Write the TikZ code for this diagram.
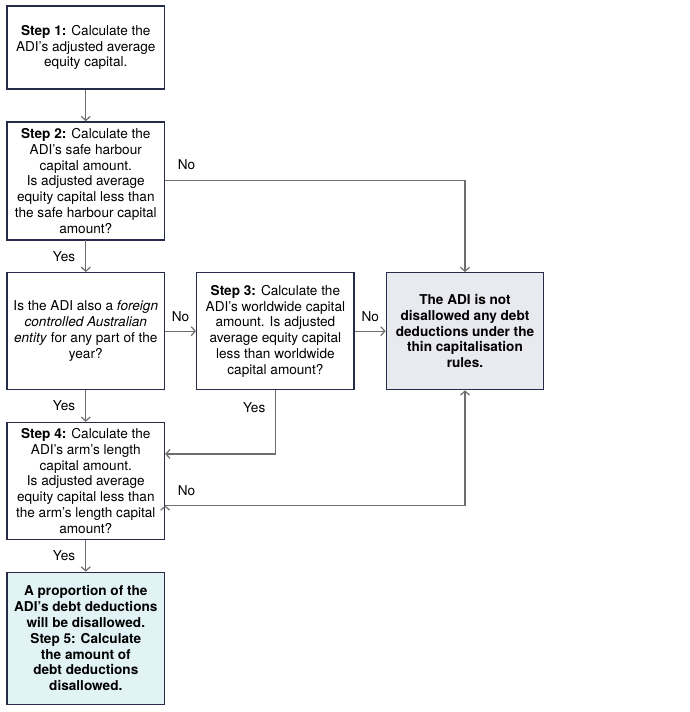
\documentclass[tikz,border=0pt]{standalone}
\usepackage{fontspec}
\setmainfont{TeX Gyre Heros}
\usetikzlibrary{matrix,calc,arrows.meta}
\definecolor{boxline}{HTML}{262B4A}
\definecolor{arrowgrey}{HTML}{6E6E6E}
\definecolor{notfill}{HTML}{E9EAEF}
\definecolor{stepfill}{HTML}{E2F3F6}

\begin{document}
\begin{tikzpicture}[
  box/.style={draw=boxline, line width=1.3pt, align=center, minimum width=157.5pt,
    inner sep=2pt, font=\fontsize{13.6}{15.8}\selectfont},
  conn/.style={draw=arrowgrey, line width=1.2pt, -{Straight Barb[length=4pt,width=9pt]}},
  lbl/.style={font=\fontsize{13.6}{15.8}\selectfont, inner sep=0pt, text=black},
  elbowh/.style={to path={-| (\tikztotarget) \tikztonodes}},
  elbowv/.style={to path={|- (\tikztotarget) \tikztonodes}}]
  \matrix (m) [row sep=31.5pt,column sep=30.8pt]
  {
     \node [box, minimum height=83pt] (step1) {\textbf{Step 1:} Calculate the\\ ADI’s adjusted average\\ equity capital.}; & & \\
     \node [box, minimum height=118pt] (step2) {\textbf{Step 2:} Calculate the\\ ADI’s safe harbour\\ capital amount.\\ Is adjusted average\\ equity capital less than\\ the safe harbour capital\\ amount?}; & & \\
     \node [box, minimum height=117pt] (fcae) {Is the ADI also a \textit{foreign}\\ \textit{controlled Australian}\\ \textit{entity} for any part of the\\ year?}; &
     \node [box, minimum height=117pt] (step3) {\textbf{Step 3:} Calculate the\\ ADI’s worldwide capital\\ amount. Is adjusted\\ average equity capital\\ less than worldwide\\ capital amount?}; &
     \node [box, minimum height=117pt, fill=notfill, font=\fontsize{13.6}{15.8}\selectfont\bfseries] (notdis) {The ADI is not\\ disallowed any debt\\ deductions under the\\ thin capitalisation\\ rules.}; \\
     \node [box, minimum height=117pt] (step4) {\textbf{Step 4:} Calculate the\\ ADI’s arm’s length\\ capital amount.\\ Is adjusted average\\ equity capital less than\\ the arm’s length capital\\ amount?}; & & \\
     \node [box, minimum height=132pt, fill=stepfill, font=\fontsize{13.6}{15.8}\selectfont\bfseries] (step5) {A proportion of the\\ ADI’s debt deductions\\ will be disallowed.\\ Step 5: Calculate\\ the amount of\\ debt deductions\\ disallowed.}; & & \\
  };
  \path[conn]
    (step1) edge (step2)

    (step2) edge node [lbl, left=10pt] (yes1) {Yes} (fcae)

    (step2.east) edge [elbowh] node [lbl, pos=0, anchor=base west, xshift=12pt, yshift=11pt] (no1) {No} (notdis.north)

    (fcae) edge node [lbl, above=8.5pt] (no2) {No} (step3)

    (step3) edge node [lbl, above=8.5pt] (no3) {No} (notdis)

    (fcae) edge node [lbl, left=10pt] (yes2) {Yes} (step4)

    (step3.south) edge [elbowv] node [lbl, pos=0, anchor=east, xshift=-9.5pt, yshift=-17.5pt] (yes3) {Yes}
                  ([yshift=27pt]step4.east)

    ([yshift=-24.5pt]step4.east) edge [elbowh] node [lbl, pos=0, anchor=base west, xshift=12pt, yshift=10pt] (no4) {No}
                  (notdis.south)

    (step4) edge node [lbl, left=10pt] (yes4) {Yes} (step5);
  \useasboundingbox ($(step1.north west)+(-6.4pt,5.4pt)$) rectangle ++(689pt,-712pt);
\end{tikzpicture}
\end{document}
